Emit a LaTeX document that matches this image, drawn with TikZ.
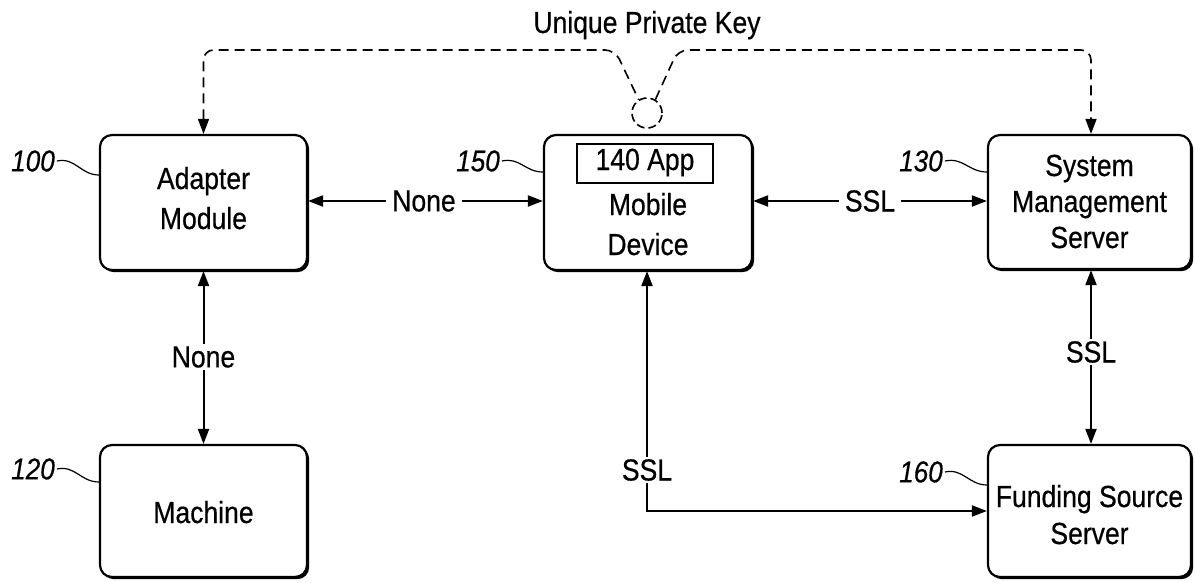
\documentclass[tikz,border=0pt]{standalone}
\usepackage{fontspec}
\setmainfont{Liberation Sans}[FakeStretch=0.87,FakeBold=0.5]
\usetikzlibrary{arrows.meta,shadows}
\begin{document}
\begin{tikzpicture}[x=1pt,y=-1pt,
  box/.style={draw, line width=2.2pt, rounded corners=12pt, fill=white,
    drop shadow={shadow xshift=2.2pt, shadow yshift=-2.2pt, fill=black, opacity=1},
    inner sep=0pt},
  txt/.style={font=\fontsize{30.5}{36}\selectfont, anchor=base, inner sep=0pt},
  num/.style={font=\fontsize{30}{36}\selectfont\itshape, anchor=east, inner sep=2pt},
  lbl/.style={font=\fontsize{30.5}{36}\selectfont, fill=white, inner xsep=6pt, inner ysep=2pt},
  tip/.tip={Triangle[length=15pt,width=11pt]},
  conn/.style={line width=2pt, tip-tip},
  keyline/.style={line width=1.6pt, dash pattern=on 10pt off 6pt, rounded corners=10pt},
  squig/.style={line width=1.2pt}
]
\useasboundingbox (0,0) rectangle (1195,582);

% boxes
\node[box, minimum width=207pt, minimum height=135pt] (adapter) at (203.5,202.5) {};
\node[box, minimum width=208pt, minimum height=135pt] (mobile) at (648,202.5) {};
\node[box, minimum width=203pt, minimum height=134pt] (sms) at (1089.5,202) {};
\node[box, minimum width=207pt, minimum height=132pt] (machine) at (203.5,511) {};
\node[box, minimum width=203pt, minimum height=132pt] (funding) at (1089.5,511) {};

% box texts
\node[txt] (adapterA) at (203.5,189) {Adapter};
\node[txt] (adapterB) at (203.5,229) {Module};
\node[draw, line width=1.8pt, minimum width=136pt, minimum height=39pt, inner sep=0pt] (app) at (645,163.5) {};
\node[txt] (appT) at (645,170) {140 App};
\node[txt] (mobileA) at (648,215) {Mobile};
\node[txt] (mobileB) at (648,255) {Device};
\node[txt] (smsA) at (1089.5,176) {System};
\node[txt] (smsB) at (1089.5,212) {Management};
\node[txt] (smsC) at (1089.5,248) {Server};
\node[txt] (machineT) at (203.5,523) {Machine};
\node[txt] (fundA) at (1089.5,507) {Funding Source};
\node[txt] (fundB) at (1089.5,544) {Server};

% reference numbers
\node[num] (n100) at (57,161) {100};
\node[num] (n150) at (502,161) {150};
\node[num] (n130) at (945,161) {130};
\node[num] (n160) at (945,472) {160};
\node[num] (n120) at (57,469) {120};
\draw[squig] (n100.east) .. controls +(18,-4) and +(-18,0) .. ([yshift=27.5pt]adapter.west);
\draw[squig] (n150.east) .. controls +(18,-4) and +(-18,0) .. ([yshift=30.5pt]mobile.west);
\draw[squig] (n130.east) .. controls +(18,-4) and +(-18,0) .. ([yshift=30pt]sms.west);
\draw[squig] (n160.east) .. controls +(18,-4) and +(-18,0) .. ([yshift=26pt]funding.west);
\draw[squig] (n120.east) .. controls +(18,-4) and +(-18,0) .. ([yshift=29pt]machine.west);

% connectors
\draw[conn] (adapter.east |- 0,201) -- (mobile.west |- 0,201);
\node[lbl] (none1) at (424,201) {None};
\draw[conn] (mobile.east |- 0,201) -- (sms.west |- 0,201);
\node[lbl] (ssl1) at (870,201) {SSL};
\draw[conn] (adapter.south) -- (machine.north);
\node[lbl] (none2) at (203.5,357) {None};
\draw[conn] (sms.south -| 1091,0) -- (funding.north -| 1091,0);
\node[lbl] (ssl2) at (1091,352) {SSL};
\draw[conn] (mobile.south -| 647,0) |- (funding.west |- 0,511);
\node[lbl] (ssl3) at (647,470) {SSL};

% unique private key
\node[txt] (keyT) at (647,33) {Unique Private Key};
\node[circle, draw, line width=1.6pt, dash pattern=on 8pt off 4pt, minimum size=30pt, inner sep=0pt] (key) at (647,113) {};
\coordinate (kl) at (615,50);
\coordinate (kr) at (678,50);
\draw[keyline, tip-] (adapter.north) |- (kl) -- (key.122);
\draw[keyline, -tip] (key.58) -- (kr) -| (sms.north -| 1091,0);
\end{tikzpicture}
\end{document}
